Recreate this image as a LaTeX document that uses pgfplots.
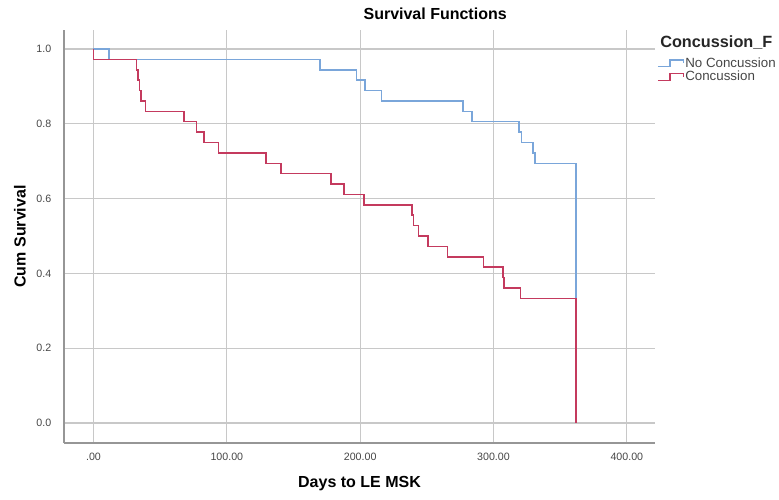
\documentclass[border=0pt]{standalone}
\usepackage{fontspec}
\setmainfont{Liberation Sans}
\usepackage{pgfplots}
\pgfplotsset{compat=1.18}
\definecolor{nocon}{RGB}{122,166,218}
\definecolor{con}{RGB}{196,58,94}
\definecolor{gridc}{RGB}{200,200,200}
\definecolor{axc}{RGB}{150,150,150}
\definecolor{tickc}{RGB}{70,70,70}
\begin{document}
\begin{tikzpicture}
\begin{axis}[
 at={(0pt,0pt)}, anchor=south west, scale only axis,
 width=443.25pt, height=309.75pt,
 xmin=-22.1, xmax=421.1, ymin=-0.0535, ymax=1.0508,
 axis x line*=bottom, axis y line*=left,
 axis line style={axc, line width=1pt, -},
 xtick={0,100,200,300,400}, xticklabels={.00,100.00,200.00,300.00,400.00},
 ytick={0,0.2,0.4,0.6,0.8,1.0}, yticklabels={0.0,0.2,0.4,0.6,0.8,1.0},
 major tick length=0pt,
 tick label style={font=\fontsize{8}{9}\selectfont, text=tickc},
 xticklabel style={yshift=-4pt},
 yticklabel style={xshift=-6pt},
 grid=major, major grid style={gridc, line width=0.8pt},
 title={\textbf{Survival Functions}},
 title style={at={(axis description cs:0.628,1.019)}, anchor=center, font=\fontsize{12}{14}\selectfont},
 xlabel={\textbf{Days to LE MSK}}, ylabel={\textbf{Cum Survival}},
 xlabel style={at={(axis description cs:0.5,-0.0993)}, anchor=center, font=\fontsize{12}{14}\selectfont},
 ylabel style={at={(axis description cs:-0.0745,0.5)}, anchor=center, font=\fontsize{12}{14}\selectfont},
 legend style={at={(axis description cs:1.0034,0.937)}, anchor=north west, draw=none, fill=none,
   font=\fontsize{10}{12}\selectfont, row sep=-0.5pt, inner sep=0pt, nodes={inner sep=1pt, text=tickc}},
 legend cell align=left,
 legend image code/.code={\draw[#1] (0pt,-2.5pt) -- (9pt,-2.5pt) -- (9pt,2.5pt) -- (19pt,2.5pt) -- (19pt,0pt);},
 clip=false,
]
\addplot[const plot, nocon, line width=1.1pt, forget plot] coordinates {
 (0,1) (11.6,0.9722) (170,0.9444) (197.4,0.9167) (203.7,0.8889) (216,0.8611)
 (277,0.8333) (283.7,0.8056) (319,0.7778) (321,0.75) (329.7,0.7222) (331,0.6944) (362,0)
};
\addplot[const plot, con, line width=1.1pt, forget plot] coordinates {
 (0,1) (0,0.9722) (32.2,0.9444) (33.4,0.9167) (34.6,0.8889) (35.5,0.8611) (38.9,0.8333)
 (67.9,0.8056) (77.4,0.7778) (82.9,0.75) (93.6,0.7222) (129.4,0.6944) (140.6,0.6667)
 (178,0.6389) (188,0.6111) (203,0.5833) (238.7,0.5556) (239.9,0.5278) (243.6,0.5)
 (250.7,0.4722) (265.4,0.4444) (292.4,0.4167) (307,0.3889) (308,0.3611) (320.4,0.3333) (362,0)
};
\addlegendimage{nocon, line width=1pt}
\addlegendentry{No Concussion}
\addlegendimage{con, line width=1pt}
\addlegendentry{Concussion}
\node[anchor=west, inner sep=0pt, font=\bfseries\fontsize{12.2}{14}\selectfont, text=black!85] at (axis description cs:1.0085,0.9685) {Concussion\_F};
\end{axis}
\pgfresetboundingbox
\path[use as bounding box] (-48pt,-42.75pt) rectangle (536.25pt,332.25pt);
\end{tikzpicture}
\end{document}
